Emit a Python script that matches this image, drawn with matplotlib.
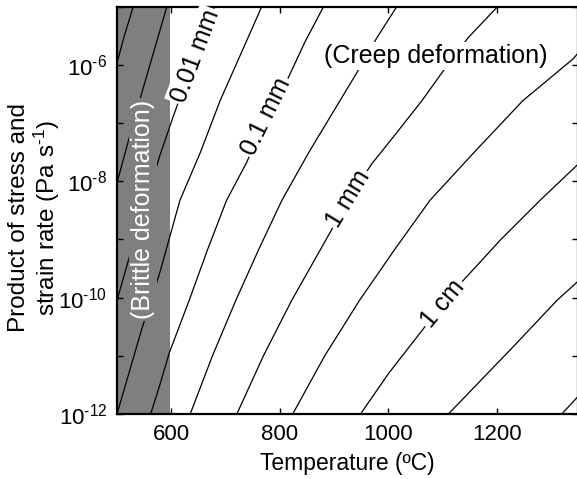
"""Length-scale contours over temperature and stress * strain rate.

Run:

    python plot.py
"""

from __future__ import annotations

import math

import matplotlib.pyplot as plt

plt.rcParams["font.family"] = ["Liberation Sans", "DejaVu Sans"]
plt.rcParams["mathtext.fontset"] = "custom"
plt.rcParams["mathtext.rm"] = "Liberation Sans"
plt.rcParams["mathtext.it"] = "Liberation Sans:italic"
plt.rcParams["mathtext.bf"] = "Liberation Sans:bold"
plt.rcParams["mathtext.default"] = "regular"

TEXT_SIZE = 18
TICK_SIZE = 16
LABEL_SIZE = 16.5

# DATA -----------------------------------------------------------------------
# Contour lines: temperature (C) and log10(stress * strain rate, Pa/s)
CONTOUR_T = [
    [500, 513, 530],
    [500, 520, 548, 592],
    [500, 521, 579, 604, 644, 680],
    [500, 546, 579, 616, 654, 690, 729, 767],
    [562, 579, 596, 633, 666, 702, 739, 775, 815, 847, 881],
    [635, 676, 719, 760, 804, 854, 911, 942, 979, 1016],
    [721, 770, 822, 893, 927, 970, 1013, 1062, 1099, 1147, 1202],
    [824, 883, 947, 1010, 1077, 1159, 1248, 1341, 1350],
    [949, 1001, 1062, 1101, 1138, 1208, 1280, 1350],
    [1111, 1230, 1311, 1350],
    [1320, 1350],
]
CONTOUR_LOG = [
    [-5.97, -5.52, -5.0],
    [-8.03, -7.34, -6.41, -5.0],
    [-10.05, -9.36, -7.56, -6.88, -5.85, -5.0],
    [-12.0, -10.53, -9.57, -8.33, -7.5, -6.62, -5.8, -5.0],
    [-12.0, -11.5, -10.96, -10.05, -9.2, -8.33, -7.68, -6.89, -6.24, -5.6, -5.0],
    [-12.0, -11.0, -10.05, -9.2, -8.33, -7.5, -6.62, -6.14, -5.54, -5.0],
    [-12.0, -11.0, -10.05, -8.88, -8.30, -7.70, -7.2, -6.62, -6.14, -5.54, -5.0],
    [-12.0, -11.0, -10.05, -9.2, -8.33, -7.5, -6.62, -5.90, -5.80],
    [-12.0, -11.3, -10.57, -10.10, -9.71, -9.0, -8.33, -7.71],
    [-12.0, -10.85, -10.05, -9.72],
    [-12.0, -11.70],
]

# Labelled contours: which line, and which of its points carries the label
LABEL_TEXT = ["0.01 mm", "0.1 mm", "1 mm", "1 cm"]
LABEL_LINE = [2, 4, 6, 8]
LABEL_POINT = [4, 7, 4, 3]

BRITTLE_LIMIT_T = 597
BRITTLE_TEXT_AT = (548, -8.49)
CREEP_TEXT_AT = (1088, -5.85)

X_LIM = (500, 1350)
Y_LIM_EXP = (-12, -5)
X_TICKS = [600, 800, 1000, 1200]
Y_TICK_EXP = [-12, -11, -10, -9, -8, -7, -6, -5]
Y_LABELLED_EXP = [-12, -10, -8, -6]

GREY = "#7f7f7f"
HYPHEN = "\u2010"


def _display_angle(ax, t0, e0, t1, e1) -> float:
    x0, y0 = ax.transData.transform((t0, 10.0 ** e0))
    x1, y1 = ax.transData.transform((t1, 10.0 ** e1))
    return math.degrees(math.atan2(y1 - y0, x1 - x0))


def _power_label(exponent: int) -> str:
    # the source uses a short hyphen in the superscript, not a wide minus
    return f"10$^{{{HYPHEN}{abs(exponent)}}}$"


def main() -> None:
    fig = plt.figure(figsize=(5.77, 4.79), dpi=100)
    ax = fig.add_axes([117 / 577, 65 / 479, 461 / 577, 407.5 / 479])

    ax.set_yscale("log")
    ax.set_xlim(*X_LIM)
    ax.set_ylim(10.0 ** Y_LIM_EXP[0], 10.0 ** Y_LIM_EXP[1])

    ax.axvspan(X_LIM[0], BRITTLE_LIMIT_T, facecolor=GREY, edgecolor="none", zorder=0)

    for temps, logs in zip(CONTOUR_T, CONTOUR_LOG):
        ax.plot(temps, [10.0 ** v for v in logs], color="black", linewidth=0.9, zorder=2)

    for text, line, point in zip(LABEL_TEXT, LABEL_LINE, LABEL_POINT):
        temps = CONTOUR_T[line]
        logs = CONTOUR_LOG[line]
        angle = _display_angle(ax, temps[point - 1], logs[point - 1], temps[point + 1], logs[point + 1])
        ax.text(
            temps[point], 10.0 ** logs[point], text,
            rotation=angle, rotation_mode="anchor", ha="center", va="center",
            fontsize=TEXT_SIZE, zorder=3,
            bbox=dict(facecolor="white", edgecolor="none", pad=1.5),
        )

    ax.text(
        BRITTLE_TEXT_AT[0], 10.0 ** BRITTLE_TEXT_AT[1], "(Brittle deformation)",
        rotation=90, ha="center", va="center", color="white", fontsize=TEXT_SIZE, zorder=3,
        bbox=dict(facecolor=GREY, edgecolor="none", pad=1.5),
    )
    ax.text(
        CREEP_TEXT_AT[0], 10.0 ** CREEP_TEXT_AT[1], "(Creep deformation)",
        ha="center", va="center", fontsize=TEXT_SIZE, zorder=3,
        bbox=dict(facecolor="white", edgecolor="none", pad=1.5),
    )

    ax.set_xticks(X_TICKS)
    ax.set_xticklabels([str(t) for t in X_TICKS])
    ax.set_yticks([10.0 ** e for e in Y_TICK_EXP])
    ax.set_yticklabels([_power_label(e) if e in Y_LABELLED_EXP else "" for e in Y_TICK_EXP])
    ax.minorticks_off()
    ax.tick_params(
        direction="in", top=True, right=True, length=4, width=1.0,
        labelsize=TICK_SIZE, pad=7,
    )
    for spine in ax.spines.values():
        spine.set_linewidth(1.6)

    ax.set_xlabel("Temperature (\u00baC)", fontsize=LABEL_SIZE, labelpad=5)
    fig.text(
        35 / 577, 1 - 218 / 479, f"Product of stress and\nstrain rate (Pa s$^{{{HYPHEN}1}}$)",
        rotation=90, ha="center", va="center", multialignment="center",
        fontsize=LABEL_SIZE + 1, linespacing=1.1,
    )

    fig.savefig("out.png", dpi=100)


if __name__ == "__main__":
    main()
